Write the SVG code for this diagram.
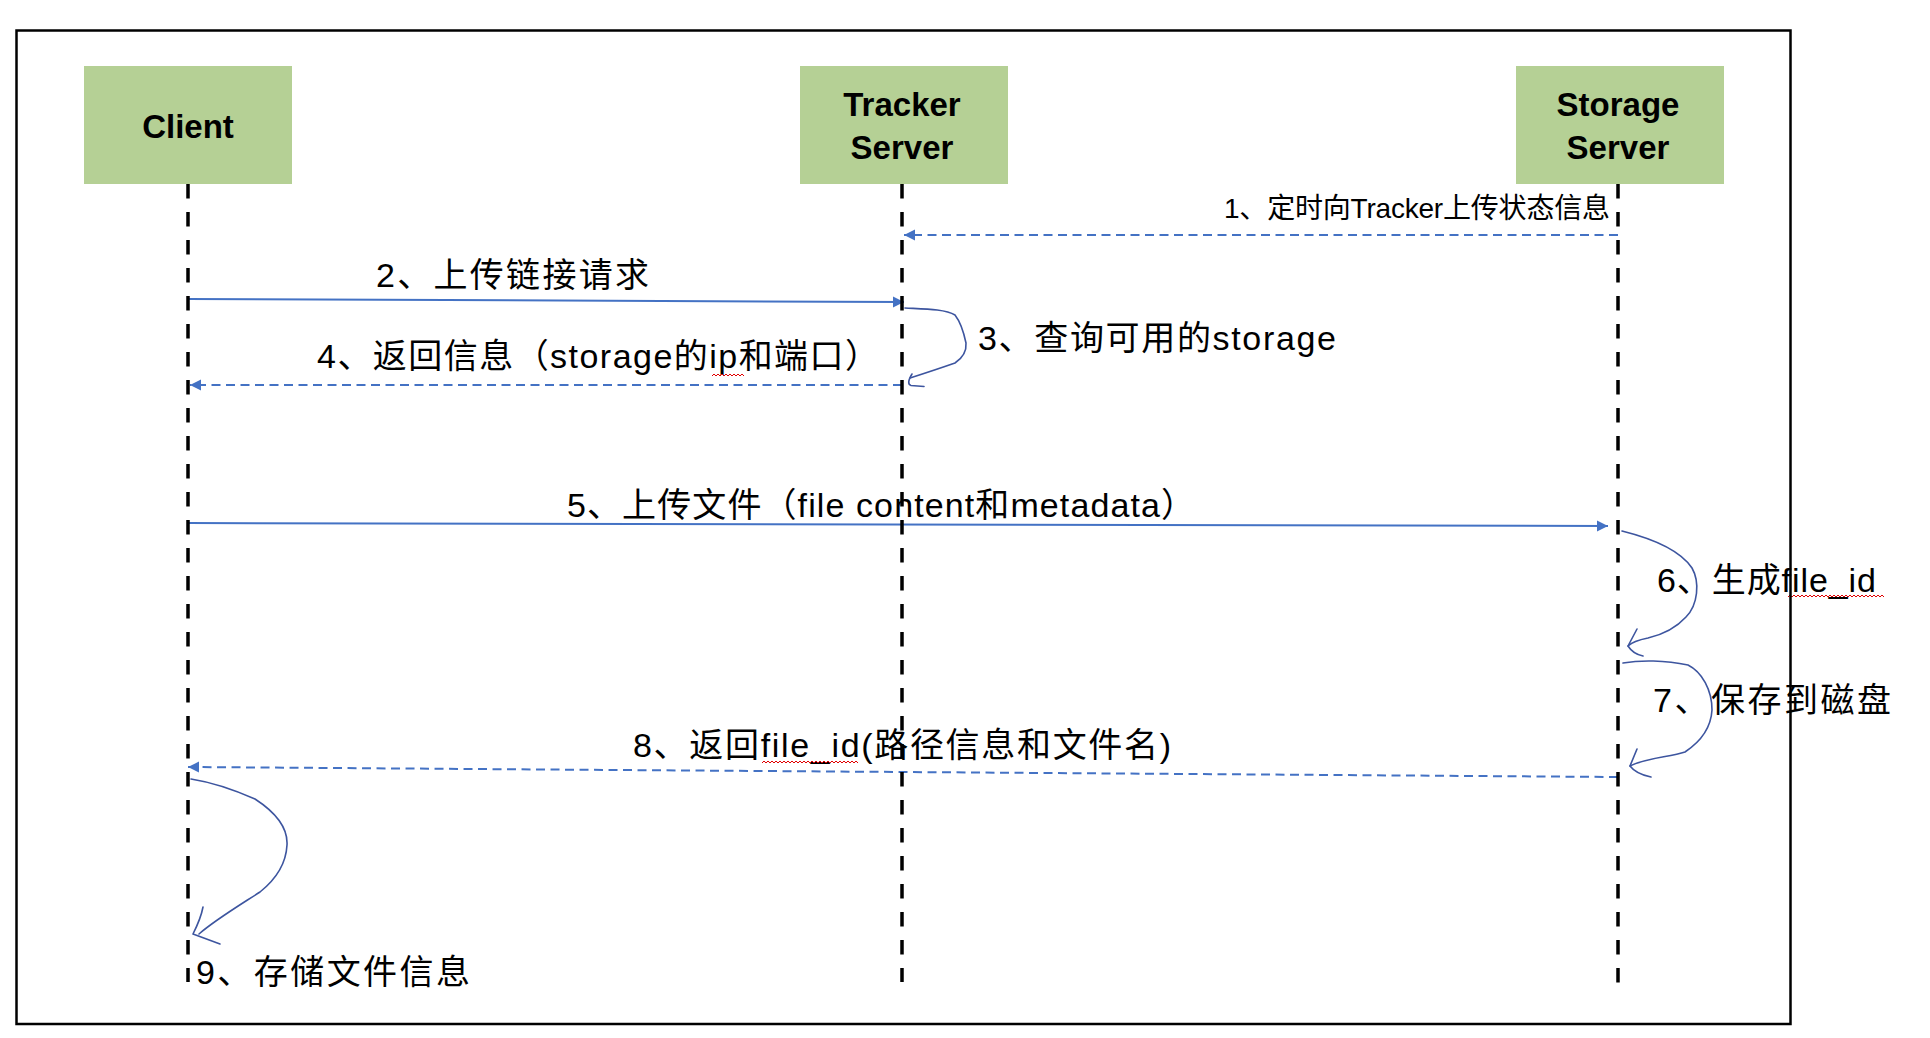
<svg xmlns="http://www.w3.org/2000/svg" width="1930" height="1038" viewBox="0 0 1930 1038">
<style>
.box{fill:#B5D095;stroke:none}
.ntxt{font-family:"Liberation Sans",Arial,sans-serif;font-weight:bold;font-size:33px;fill:#000;text-anchor:middle}
.life{stroke:#000;stroke-width:3.5;stroke-dasharray:14.5 13.5;fill:none}
.lbl{font-family:"Liberation Sans","Noto Sans CJK SC",sans-serif;font-size:34px;fill:#000}
.lbl1{font-size:28px}
.msg{stroke:#4472C4;stroke-width:2;fill:none;marker-end:url(#ah)}
.dash{stroke-dasharray:9 5.5}
.hand{stroke:#3D559F;stroke-width:1.6;fill:none;stroke-linecap:round;stroke-linejoin:round}
.sq{stroke:#E00000;stroke-width:1;fill:none}
</style>
<defs>
<marker id="ah" markerUnits="userSpaceOnUse" markerWidth="12" markerHeight="12" refX="11" refY="5.5" orient="auto">
<path d="M0,0 L11,5.5 L0,11 z" fill="#4472C4"/>
</marker>
</defs>
<rect width="1930" height="1038" fill="#fff"/>

<g id="labels">
<text class="lbl lbl1" x="1224" y="217.5" textLength="386">1、定时向Tracker上传状态信息</text>
<text class="lbl" x="376" y="286.5" textLength="273">2、上传链接请求</text>
<text class="lbl" x="978" y="350" textLength="358">3、查询可用的storage</text>
<text class="lbl" x="317" y="367.5" textLength="562">4、返回信息（storage的ip和端口）</text>
<text class="lbl" x="567" y="516.5" textLength="628">5、上传文件（file content和metadata）</text>
<text class="lbl" x="1657" y="591.5" textLength="219">6、生成file_id</text>
<text class="lbl" x="1653" y="711.5" textLength="238">7、保存到磁盘</text>
<text class="lbl" x="633" y="757" textLength="538">8、返回file_id(路径信息和文件名)</text>
<text class="lbl" x="196" y="983.5" textLength="274">9、存储文件信息</text>
<path class="sq" d="M712,376 l2,-2 l2,2 l2,-2 l2,2 l2,-2 l2,2 l2,-2 l2,2 l2,-2 l2,2 l2,-2 l2,2 l2,-2 l2,2 l2,-2 l2,2"/>
<path class="sq" d="M1788,597 l2,-2 l2,2 l2,-2 l2,2 l2,-2 l2,2 l2,-2 l2,2 l2,-2 l2,2 l2,-2 l2,2 l2,-2 l2,2 l2,-2 l2,2 l2,-2 l2,2 l2,-2 l2,2 l2,-2 l2,2 l2,-2 l2,2 l2,-2 l2,2 l2,-2 l2,2 l2,-2 l2,2 l2,-2 l2,2 l2,-2 l2,2 l2,-2 l2,2 l2,-2 l2,2 l2,-2 l2,2 l2,-2 l2,2 l2,-2 l2,2 l2,-2 l2,2 l2,-2 l2,2"/>
<path class="sq" d="M762,763 l2,-2 l2,2 l2,-2 l2,2 l2,-2 l2,2 l2,-2 l2,2 l2,-2 l2,2 l2,-2 l2,2 l2,-2 l2,2 l2,-2 l2,2 l2,-2 l2,2 l2,-2 l2,2 l2,-2 l2,2 l2,-2 l2,2 l2,-2 l2,2 l2,-2 l2,2 l2,-2 l2,2 l2,-2 l2,2 l2,-2 l2,2 l2,-2 l2,2 l2,-2 l2,2 l2,-2 l2,2 l2,-2 l2,2 l2,-2 l2,2 l2,-2 l2,2 l2,-2 l2,2"/>
</g>

<g id="connectors">
<path class="msg dash" d="M1618,235 L904,235"/>
<path class="msg" d="M188,299 L904,302"/>
<path class="hand" d="M905,308 C925,309 945,309 955,315 Q962,324 966,343 Q967,355 955,363 Q935,370 910,378"/>
<path class="hand" d="M912,374 Q906,384 911,385.5 L924,386.5"/>
<path class="msg dash" d="M902,385 L190,385"/>
<path class="msg" d="M188,523 L1608,526"/>
<path class="hand" d="M1622,531 C1650,538 1680,550 1692,568 C1700,582 1698,605 1686,617 C1676,628 1665,634 1648,638 C1638,640 1632,642 1628,646"/>
<path class="hand" d="M1637,629 L1628,646 Q1633,654 1643,656"/>
<path class="hand" d="M1623,663 C1640,660 1665,660 1688,665 C1702,672 1712,690 1712,710 C1711,728 1700,742 1685,752 C1670,757 1645,758 1630,766"/>
<path class="hand" d="M1637,749 L1630,766 Q1636,774 1651,777"/>
<path class="msg dash" d="M1618,777 L188,767"/>
<path class="hand" d="M191,779 C210,782 230,788 255,799 C275,812 288,828 287,845 C286,865 275,880 260,892 C240,905 215,920 199,934"/>
<path class="hand" d="M203,907 C201,918 196,928 193,934 L220,944"/>
</g>

<g id="client">
<rect class="box" x="84" y="66" width="208" height="118"/>
<text class="ntxt" x="188" y="138">Client</text>
<line class="life" x1="188" y1="184" x2="188" y2="982"/>
</g>
<g id="tracker">
<rect class="box" x="800" y="66" width="208" height="118"/>
<text class="ntxt" x="902" y="116">Tracker</text>
<text class="ntxt" x="902" y="159">Server</text>
<line class="life" x1="902" y1="184" x2="902" y2="982"/>
</g>
<g id="storage">
<rect class="box" x="1516" y="66" width="208" height="118"/>
<text class="ntxt" x="1618" y="116">Storage</text>
<text class="ntxt" x="1618" y="159">Server</text>
<line class="life" x1="1618" y1="184" x2="1618" y2="983"/>
</g>

<rect id="frame" x="16.5" y="30.5" width="1774" height="993.5" fill="none" stroke="#000" stroke-width="2.5"/>
</svg>
